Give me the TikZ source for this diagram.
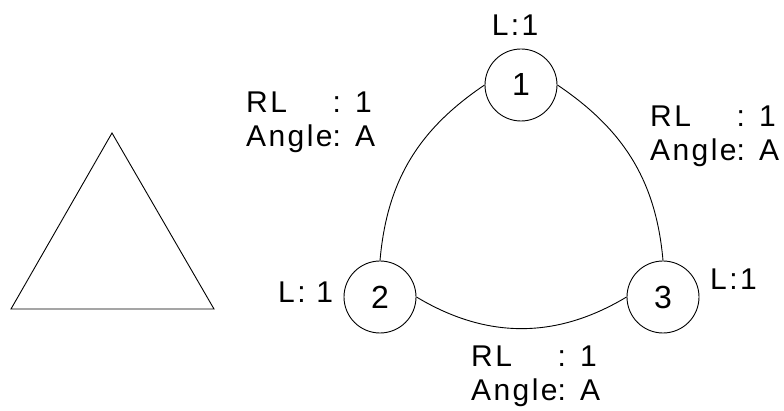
\documentclass[tikz,border=0pt]{standalone}
\usepackage{fontspec}
\setmainfont{Liberation Sans}[LetterSpace=8]
\begin{document}
\begin{tikzpicture}[x=1pt,y=1pt,
  nodecirc/.style={circle,draw,line width=0.9pt,minimum size=72pt,inner sep=0pt,font=\fontsize{32}{36}\selectfont},
  lbl/.style={inner sep=0pt,font=\fontsize{30}{34}\selectfont},
  link/.style={line width=0.9pt}]
\useasboundingbox (0,0) rectangle (784,411);
% triangle
\draw[line width=0.9pt] (112,278) coordinate (ta) -- (11,102) coordinate (tb) -- (214,102) coordinate (tc) -- cycle;
% nodes
\node[nodecirc] (n1) at (521,326) {1};
\node[nodecirc] (n2) at (380,114) {2};
\node[nodecirc] (n3) at (663,114) {3};
% edges
\draw[link] (n1.west) to[out=214,in=85] (n2.north);
\draw[link] (n1.east) to[out=-34,in=95] (n3.north);
\draw[link] (n2.east) to[out=-31,in=211] (n3.west);
% node labels
\node[lbl,anchor=base] (l1) at (515,375) {L:1};
\node[lbl,anchor=base west] (l2) at (278,108) {L: 1};
\node[lbl,anchor=base west] (l3) at (710,121) {L:1};
% edge labels
\node[lbl,anchor=base west] (e12) at (246,298) {\begin{tabular}[t]{@{}l@{}l@{}}RL&: 1\\Angle&: A\end{tabular}};
\node[lbl,anchor=base west] (e13) at (650,284) {\begin{tabular}[t]{@{}l@{}l@{}}RL&: 1\\Angle&: A\end{tabular}};
\node[lbl,anchor=base west] (e23) at (471,44) {\begin{tabular}[t]{@{}l@{}l@{}}RL&: 1\\Angle&: A\end{tabular}};
\end{tikzpicture}
\end{document}
